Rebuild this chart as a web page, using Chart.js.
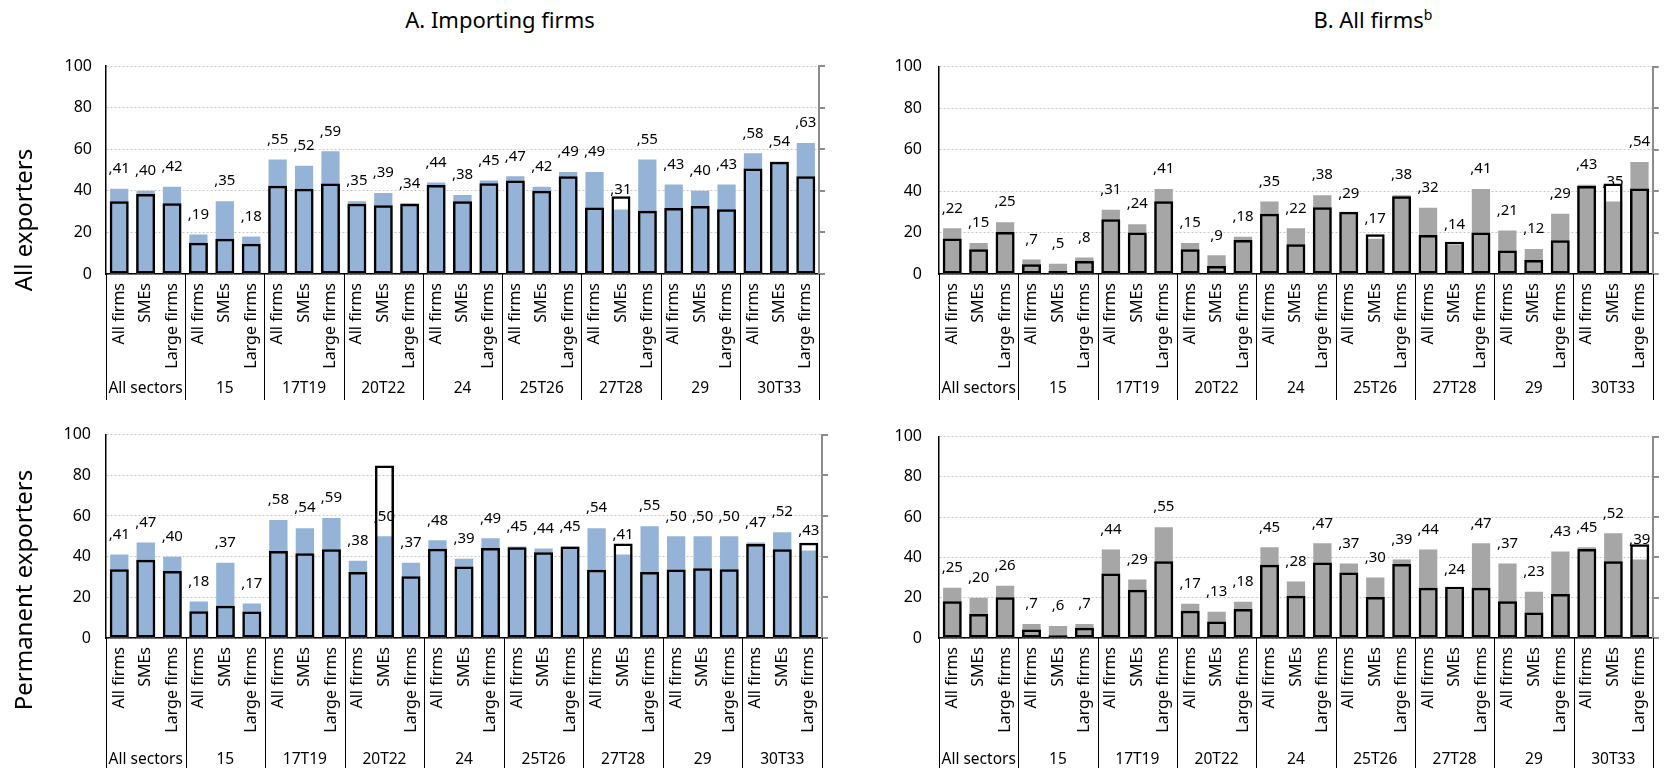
<!DOCTYPE html>
<html>
<head>
<meta charset="utf-8">
<script src="https://cdn.jsdelivr.net/npm/chart.js@4.4.1/dist/chart.umd.min.js"></script>
<style>
  html, body { margin: 0; padding: 0; background: #fff; }
  body { width: 1668px; height: 768px; position: relative; overflow: hidden; font-family: "Noto Sans", sans-serif; color: #000; }
  canvas { position: absolute; }
  .title { position: absolute; font-size: 22px; white-space: nowrap; transform: translateX(-50%); line-height: 28px; z-index: 2; }
  .title sup { font-size: 14px; line-height: 0; }
  .row { position: absolute; font-size: 24px; white-space: nowrap; transform: translate(-50%, -50%) rotate(-90deg); z-index: 2; }
</style>
</head>
<body>
<div class="title" style="left:500px; top:5px;">A. Importing firms</div>
<div class="title" style="left:1373px; top:5px;">B. All firms<sup>b</sup></div>
<div class="row" style="left:22px; top:220px;">All exporters</div>
<div class="row" style="left:22px; top:590px;">Permanent exporters</div>

<canvas id="impAll"></canvas>
<canvas id="allAll"></canvas>
<canvas id="impPerm"></canvas>
<canvas id="allPerm"></canvas>

<script>
// Sectors and firm-size breakdown along the x axis
const sectors = ['All sectors', '15', '17T19', '20T22', '24', '25T26', '27T28', '29', '30T33'];
const firmTypes = ['All firms', 'SMEs', 'Large firms'];
const yTicks = [0, 20, 40, 60, 80, 100];

// A. Importing firms – all exporters (labelled share, outlined comparison)
const impAllShare = [41, 40, 42, 19, 35, 18, 55, 52, 59, 35, 39, 34, 44, 38, 45, 47, 42, 49, 49, 31, 55, 43, 40, 43, 58, 54, 63];
const impAllComp  = [35, 38.5, 34, 15, 17, 14.6, 42.4, 41, 43.5, 33.8, 33, 33.8, 42.8, 35, 43.6, 45, 40, 47, 32, 37.4, 30.4, 31.7, 32.7, 31.1, 50.7, 54, 47];

// B. All firms – all exporters
const allAllShare = [22, 15, 25, 7, 5, 8, 31, 24, 41, 15, 9, 18, 35, 22, 38, 29, 17, 38, 32, 14, 41, 21, 12, 29, 43, 35, 54];
const allAllComp  = [17.1, 11.9, 20.3, 4.7, 1.4, 6.3, 26.4, 20, 35.1, 11.9, 3.9, 16.4, 29.1, 14.3, 32.2, 30, 19.2, 37.5, 18.8, 15.6, 20, 11.3, 6.8, 16.3, 42.4, 43.6, 41.2];

// A. Importing firms – permanent exporters
const impPermShare = [41, 47, 40, 18, 37, 17, 58, 54, 59, 38, 50, 37, 48, 39, 49, 45, 44, 45, 54, 41, 55, 50, 50, 50, 47, 52, 43];
const impPermComp  = [33.8, 38.5, 33, 13.1, 15.9, 13, 42.8, 41.7, 43.6, 32.5, 84.8, 30.3, 43.9, 35.1, 44.2, 44.6, 42.2, 45, 33.5, 46.5, 32.4, 33.7, 34.3, 33.8, 46.2, 43.6, 46.8];

// B. All firms – permanent exporters
const allPermShare = [25, 20, 26, 7, 6, 7, 44, 29, 55, 17, 13, 18, 45, 28, 47, 37, 30, 39, 44, 24, 47, 37, 23, 43, 45, 52, 39];
const allPermComp  = [18.3, 11.9, 20.2, 4.2, 1.4, 5.1, 32, 24, 38.1, 13.5, 8.2, 14.4, 36.4, 21, 37.5, 32.5, 20.3, 36.7, 25, 25.5, 25, 18.3, 12.6, 21.8, 44.2, 38.1, 46.6];

const FONT = '"Noto Sans", sans-serif';
const categoryLabels = sectors.flatMap(() => firmTypes);

// Value labels (",41") above the filled bars
const valueLabels = {
  id: 'valueLabels',
  afterDatasetsDraw(chart) {
    const idx = chart.data.datasets.findIndex(d => d.isShare);
    const meta = chart.getDatasetMeta(idx);
    const values = chart.data.datasets[idx].data;
    const ctx = chart.ctx;
    ctx.save();
    ctx.font = '15px ' + FONT;
    ctx.fillStyle = '#000';
    ctx.textAlign = 'center';
    ctx.textBaseline = 'middle';
    meta.data.forEach((bar, i) => {
      ctx.fillText(',' + values[i], bar.x, bar.y - 20);
    });
    ctx.restore();
  }
};

// Sector row under the firm-size labels, with separators between sectors
const sectorRow = {
  id: 'sectorRow',
  afterDraw(chart, args, opts) {
    const xs = chart.scales.x;
    const a = chart.chartArea;
    const ctx = chart.ctx;
    const per = firmTypes.length;
    ctx.save();
    ctx.strokeStyle = '#000';
    ctx.lineWidth = 1;
    for (let g = 0; g <= sectors.length; g++) {
      let bx;
      if (g === 0) bx = a.left;
      else if (g === sectors.length) bx = a.right;
      else bx = (xs.getPixelForValue(g * per - 1) + xs.getPixelForValue(g * per)) / 2;
      bx = Math.round(bx) + 0.5;
      ctx.beginPath();
      ctx.moveTo(bx, a.bottom);
      ctx.lineTo(bx, a.bottom + opts.sepLen);
      ctx.stroke();
    }
    ctx.font = '15.5px ' + FONT;
    ctx.fillStyle = '#000';
    ctx.textAlign = 'center';
    ctx.textBaseline = 'middle';
    sectors.forEach((s, g) => {
      const cx = xs.getPixelForValue(g * per + 1);
      ctx.fillText(s, cx, a.bottom + opts.labelY);
    });
    ctx.restore();
  }
};

function makePanel(id, box, area, share, comp, fill, tickPad, labelY, sepLen) {
  const cv = document.getElementById(id);
  const w = box[2] - box[0], h = box[3] - box[1];
  cv.width = w; cv.height = h;
  cv.style.left = box[0] + 'px';
  cv.style.top = box[1] + 'px';
  cv.style.width = w + 'px';
  cv.style.height = h + 'px';

  new Chart(cv, {
    type: 'bar',
    data: {
      labels: categoryLabels,
      datasets: [
        {
          label: 'comparison',
          data: comp,
          grouped: false,
          order: 0,
          backgroundColor: 'rgba(0,0,0,0)',
          borderColor: '#000',
          borderWidth: 2.5,
          borderSkipped: false,
          barPercentage: 0.72,
          categoryPercentage: 1
        },
        {
          label: 'share',
          isShare: true,
          data: share,
          grouped: false,
          order: 1,
          backgroundColor: fill,
          borderWidth: 0,
          barPercentage: 0.69,
          categoryPercentage: 1
        }
      ]
    },
    options: {
      responsive: false,
      animation: false,
      devicePixelRatio: 1,
      layout: { padding: { top: area[1] - box[1], left: 0, right: 0, bottom: 0 } },
      plugins: {
        legend: { display: false },
        tooltip: { enabled: false },
        sectorRow: { labelY: labelY, sepLen: sepLen }
      },
      scales: {
        x: {
          type: 'category',
          offset: true,
          grid: { display: false, drawTicks: false },
          border: { display: true, color: '#000', width: 1.5 },
          ticks: {
            autoSkip: false,
            minRotation: 90,
            maxRotation: 90,
            padding: 9,
            color: '#000',
            font: { family: FONT, size: 16 }
          },
          afterFit(s) { s.height = box[3] - area[3]; }
        },
        y: {
          position: 'left',
          min: 0,
          max: 100,
          afterBuildTicks(s) { s.ticks = yTicks.map(v => ({ value: v })); },
          grid: { color: '#c8c8c8', lineWidth: 1, drawTicks: false },
          border: { display: true, color: '#000', width: 1.5, dash: [2, 2] },
          ticks: { padding: tickPad, color: '#000', font: { family: FONT, size: 16 } },
          afterFit(s) { s.width = area[0] - box[0]; }
        },
        y2: {
          position: 'right',
          min: 0,
          max: 100,
          afterBuildTicks(s) { s.ticks = yTicks.map(v => ({ value: v })); },
          grid: { drawOnChartArea: false, drawTicks: true, tickLength: 6, color: '#8c8c8c', lineWidth: 2 },
          border: { display: true, color: '#8c8c8c', width: 2 },
          ticks: { display: false },
          afterFit(s) { s.width = box[2] - area[2]; }
        }
      }
    },
    plugins: [valueLabels, sectorRow]
  });
}

const BLUE = '#95B3D7';
const GREY = '#A6A6A6';

makePanel('impAll',  [0, 40, 850, 410],     [106, 66, 819, 274],  impAllShare,  impAllComp,  BLUE, 14, 115, 126);
makePanel('allAll',  [850, 40, 1668, 410],  [939, 66, 1653, 274], allAllShare,  allAllComp,  GREY, 17, 115, 126);
makePanel('impPerm', [0, 410, 850, 768],    [106, 430, 822, 638], impPermShare, impPermComp, BLUE, 15, 122, 130);
makePanel('allPerm', [850, 410, 1668, 768], [939, 430, 1663, 638], allPermShare, allPermComp, GREY, 17, 122, 130);
</script>
</body>
</html>
